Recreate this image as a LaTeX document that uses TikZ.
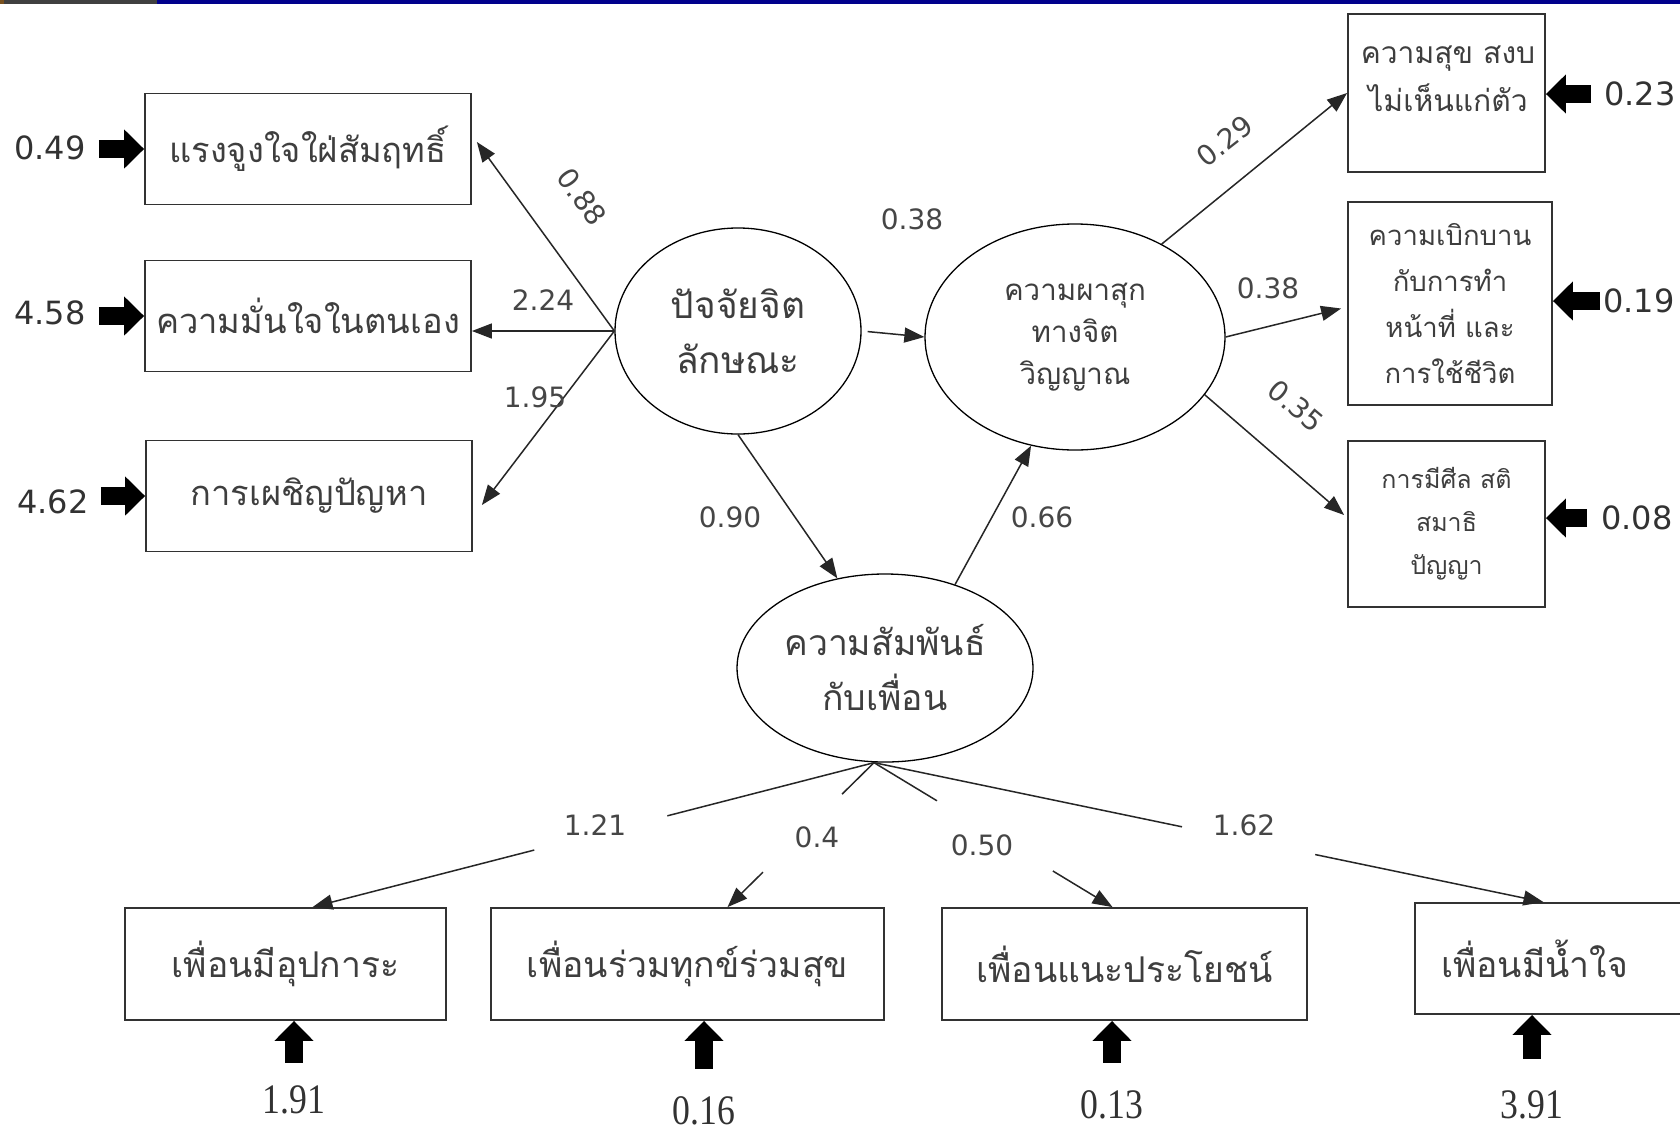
\documentclass[tikz,border=0pt]{standalone}
\usepackage{fontspec}
\newfontfamily\thai[Script=Thai]{Loma}
\newfontfamily\numsans{DejaVu Sans}
\newfontfamily\numserif[FakeStretch=0.85]{Liberation Serif}
\usetikzlibrary{arrows.meta,shapes.geometric,calc}
\definecolor{navybar}{RGB}{0,0,140}
\definecolor{bargray}{RGB}{64,64,64}
\definecolor{barbrown}{RGB}{120,80,30}
\definecolor{ink}{RGB}{50,50,50}
\definecolor{thaiink}{RGB}{62,62,62}
\definecolor{lblink}{RGB}{70,70,70}
\begin{document}
\begin{tikzpicture}[x=1pt,y=-1pt,
  lbox/.style={draw=ink, line width=1.8pt, rectangle, inner sep=0pt, align=center,
    minimum width=326pt, minimum height=111pt, text=thaiink,
    font=\thai\fontsize{34.5}{40}\selectfont},
  rbox/.style={draw=ink, line width=1.8pt, rectangle, inner sep=0pt, align=center, text=thaiink},
  bbox/.style={draw=ink, line width=1.8pt, rectangle, inner sep=0pt, align=center,
    minimum height=112pt, text=thaiink, font=\thai\fontsize{35.5}{42}\selectfont},
  lat/.style={draw=black, line width=1.3pt, ellipse, inner sep=0pt, align=center, text=thaiink},
  conn/.style={draw=black!85, line width=1.5pt, -{Triangle[length=20pt,width=15pt]}},
  seg/.style={draw=black!85, line width=1.5pt},
  blockarrow/.style={draw=black, line width=18pt, -{Triangle[length=20pt,width=38pt]}},
  errlbl/.style={inner sep=0pt, text=ink, font=\numsans\fontsize{32}{36}\selectfont},
  errser/.style={inner sep=0pt, text=ink, font=\numserif\fontsize{42}{46}\selectfont},
  plbl/.style={inner sep=0pt, text=lblink, font=\numsans\fontsize{28}{32}\selectfont}
]
\fill[white] (0,0) rectangle (1680,1133);
\useasboundingbox (0,0) rectangle (1680,1133);
\fill[bargray] (0,0) rectangle (157,4);
\fill[barbrown] (0,0) rectangle (4,4);
\fill[navybar] (157,0) rectangle (1680,4);

% observed variables, left
\node[lbox] (b1) at (308,149) {แรงจูงใจใฝ่สัมฤทธิ์};
\node[lbox] (b2) at (308,316) {ความมั่นใจในตนเอง};
\node[lbox] (b3) at (309,496) {การเผชิญปัญหา};

% latent variables
\node[lat, minimum width=246pt, minimum height=206pt,
  font=\thai\fontsize{37}{55}\selectfont] (e1) at (738,331) {ปัจจัยจิต\\ลักษณะ};
\node[lat, minimum width=300pt, minimum height=226pt,
  font=\thai\fontsize{29.5}{42}\selectfont] (e2) at (1075,337) {ความผาสุก\\ทางจิต\\วิญญาณ};
\node[lat, minimum width=296pt, minimum height=188pt,
  font=\thai\fontsize{35.5}{55}\selectfont] (e3) at (885,668) {ความสัมพันธ์\\กับเพื่อน};

% observed variables, right
\node[rbox, minimum width=197pt, minimum height=158pt] (r1) at (1446.5,93) {};
\node[inner sep=0pt, align=center, text=thaiink, font=\thai\fontsize{30}{48}\selectfont]
  (r1t) at (1448,79) {ความสุข สงบ\\ไม่เห็นแก่ตัว};
\node[rbox, minimum width=204pt, minimum height=203pt,
  font=\thai\fontsize{27.5}{46}\selectfont] (r2) at (1450,303.5) {ความเบิกบาน\\กับการทำ\\หน้าที่ และ\\การใช้ชีวิต};
\node[rbox, minimum width=197pt, minimum height=166pt,
  font=\thai\fontsize{25}{43}\selectfont] (r3) at (1446.5,524) {การมีศีล สติ\\สมาธิ\\ปัญญา};

% observed variables, bottom
\node[bbox, minimum width=321pt] (f1) at (285.5,964) {เพื่อนมีอุปการะ};
\node[bbox, minimum width=393pt] (f2) at (687.5,964) {เพื่อนร่วมทุกข์ร่วมสุข};
\node[bbox, minimum width=365pt] (f3) at (1124.5,964) {เพื่อนแนะประโยชน์};
\node[bbox, minimum width=269pt, minimum height=111pt] (f4) at (1549.5,958.5) {\hspace*{-30pt}เพื่อนมีน้ำใจ};

% error terms
\node[errlbl] (u1) at (50,148) {0.49};
\node[errlbl] (u2) at (50,313) {4.58};
\node[errlbl] (u3) at (53,502) {4.62};
\node[errlbl] (v1) at (1640,94) {0.23};
\node[errlbl] (v2) at (1639,301) {0.19};
\node[errlbl] (v3) at (1637,518) {0.08};
\node[errser] (w1) at (294,1100) {1.91};
\node[errser] (w2) at (704,1111) {0.16};
\node[errser] (w3) at (1112,1105) {0.13};
\node[errser] (w4) at (1532,1105) {3.91};

\draw[blockarrow, shorten <=13pt] (b1.west -| u1.east) -- (b1.west);
\draw[blockarrow, shorten <=13pt] (b2.west -| u2.east) -- (b2.west);
\draw[blockarrow, shorten <=12pt] (b3.west -| u3.east) -- (b3.west);
\draw[blockarrow, shorten <=13pt] (v1.west) -- (v1.west -| r1.east);
\draw[blockarrow, shorten <=3pt] (v2.west) -- (v2.west -| r2.east);
\draw[blockarrow, shorten <=14pt] (v3.west) -- (v3.west -| r3.east);
\draw[blockarrow, shorten <=23pt] (w1.north) -- (w1.north |- f1.south);
\draw[blockarrow, shorten <=28pt] (w2.north) -- (w2.north |- f2.south);
\draw[blockarrow, shorten <=28pt] (w3.north) -- (w3.north |- f3.south);
\draw[blockarrow, shorten <=32pt] (w4.north) -- (w4.north |- f4.south);

% structural paths
\draw[conn] (e1.west) -- ([shift={(5,-7)}]b1.east);
\draw[conn] (e1.west) -- (e1.west -| b2.east);
\draw[conn] (e1.west) -- ([shift={(9,9)}]b3.east);
\draw[conn, shorten <=6pt] (e1.east) -- (e2.west);
\draw[conn] (e1.south) -- (e3.118);
\draw[conn] (e3.50) -- (e2.248);
\draw[conn] (e2.47) -- (r1.west);
\draw[conn] (e2.east) -- ([shift={(-6,5)}]r2.west);
\draw[conn] (e2.-24) -- ([shift={(-3,-9)}]r3.west);

\node[plbl, rotate=-54] (l1) at (582,197) {0.88};
\node[plbl] (l2) at (543,300) {2.24};
\node[plbl] (l3) at (535,397) {1.95};
\node[plbl] (l4) at (912,219) {0.38};
\node[plbl] (l5) at (730,517) {0.90};
\node[plbl] (l6) at (1042,517) {0.66};
\node[plbl, rotate=38] (l7) at (1225,141) {0.29};
\node[plbl] (l8) at (1268,288) {0.38};
\node[plbl, rotate=-40] (l9) at (1296,406) {0.35};

% bottom loadings (interrupted by their labels)
\coordinate (apex) at ([shift={(-11,0)}]e3.south);
\coordinate (t1) at ([shift={(27,0)}]f1.north);
\coordinate (t2) at ([shift={(40,0)}]f2.north);
\coordinate (t3) at ([shift={(-12,0)}]f3.north);
\coordinate (t4) at ([shift={(-6,0)}]f4.north);
\coordinate (g1a) at ($(apex)!0.368!(t1)$);
\coordinate (g1b) at ($(apex)!0.605!(t1)$);
\coordinate (g2a) at ($(apex)!0.218!(t2)$);
\coordinate (g2b) at ($(apex)!0.758!(t2)$);
\coordinate (g3a) at ($(apex)!0.264!(t3)$);
\coordinate (g3b) at ($(apex)!0.75!(t3)$);
\coordinate (g4a) at ($(apex)!0.46!(t4)$);
\coordinate (g4b) at ($(apex)!0.659!(t4)$);
\draw[seg] (apex) -- (g1a);
\draw[conn] (g1b) -- (t1);
\draw[seg] (apex) -- (g2a);
\draw[conn] (g2b) -- (t2);
\draw[seg] (apex) -- (g3a);
\draw[conn] (g3b) -- (t3);
\draw[seg] (apex) -- (g4a);
\draw[conn] (g4b) -- (t4);
\node[plbl] (m1) at (595,825) {1.21};
\node[plbl] (m2) at (817,837) {0.4};
\node[plbl] (m3) at (982,845) {0.50};
\node[plbl] (m4) at (1244,825) {1.62};
\end{tikzpicture}
\end{document}
